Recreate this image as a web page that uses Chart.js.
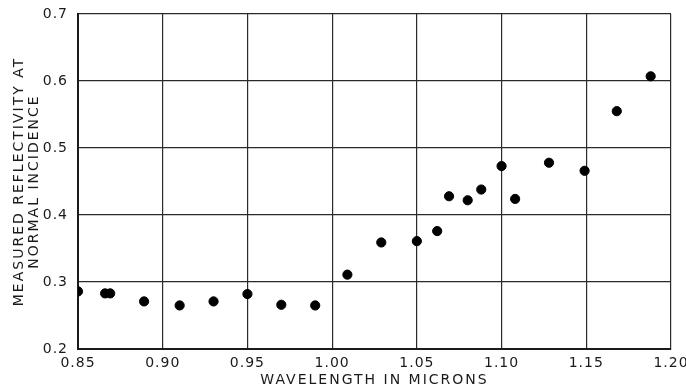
<!DOCTYPE html>
<html>
<head>
<meta charset="utf-8">
<script src="https://cdn.jsdelivr.net/npm/chart.js@4"></script>
<style>
  html, body { margin: 0; padding: 0; background: #fff; }
  #wrap { width: 686px; height: 387px; }
</style>
</head>
<body>
<div id="wrap"><canvas id="reflChart" width="686" height="387"></canvas></div>
<script>
// Datos
const wavelengths = [0.85, 0.866, 0.869, 0.889, 0.910, 0.930, 0.950, 0.970, 0.990, 1.009, 1.029, 1.050, 1.062, 1.069, 1.080, 1.088, 1.100, 1.108, 1.128, 1.149, 1.168, 1.188];
const reflectivity = [0.286, 0.283, 0.283, 0.271, 0.265, 0.271, 0.282, 0.266, 0.265, 0.311, 0.359, 0.361, 0.376, 0.428, 0.422, 0.438, 0.473, 0.424, 0.478, 0.466, 0.555, 0.607];
const xTicks = [0.85, 0.90, 0.95, 1.00, 1.05, 1.10, 1.15, 1.20];
const yTicks = [0.2, 0.3, 0.4, 0.5, 0.6, 0.7];

const FONT = "'DejaVu Sans', sans-serif";
const ink = '#1a1a1a';

// Espaciado de letras: 1px para las marcas, 2px para los títulos
const spacingPlugin = {
    id: 'spacing',
    beforeDraw(chart) {
        chart.ctx.letterSpacing = '1px';
        Object.values(chart.scales).forEach(scale => {
            if (scale._titleWrapped) return;
            const orig = scale.drawTitle;
            scale.drawTitle = function () {
                this.ctx.save();
                this.ctx.letterSpacing = '2px';
                orig.apply(this, arguments);
                this.ctx.restore();
            };
            scale._titleWrapped = true;
        });
    }
};

const ctx = document.getElementById('reflChart');

new Chart(ctx, {
    type: 'scatter',
    data: {
        datasets: [{
            data: wavelengths.map((w, i) => ({ x: w, y: reflectivity[i] })),
            backgroundColor: '#000',
            borderColor: '#000',
            pointRadius: 4.6,
            pointHoverRadius: 4.6
        }]
    },
    plugins: [spacingPlugin],
    options: {
        responsive: false,
        animation: false,
        layout: {
            padding: { left: 12, right: 15, top: 14, bottom: 0 }
        },
        plugins: {
            legend: { display: false },
            tooltip: { enabled: false }
        },
        scales: {
            x: {
                type: 'linear',
                min: 0.85,
                max: 1.20,
                afterBuildTicks: (axis) => { axis.ticks = xTicks.map(v => ({ value: v })); },
                afterFit: (axis) => { axis.height = 38; axis.paddingLeft = 0; axis.paddingRight = 0; },
                border: { color: ink, width: 2 },
                grid: { color: '#2a2a2a', lineWidth: 1.2, drawTicks: false },
                ticks: {
                    color: ink,
                    padding: 6,
                    maxRotation: 0,
                    font: { family: FONT, size: 14 },
                    callback: (v) => v.toFixed(2)
                },
                title: {
                    display: true,
                    text: 'WAVELENGTH IN MICRONS',
                    color: ink,
                    padding: { top: 0, bottom: 0 },
                    font: { family: FONT, size: 14, lineHeight: 1.0 }
                }
            },
            y: {
                type: 'linear',
                min: 0.2,
                max: 0.7,
                afterBuildTicks: (axis) => { axis.ticks = yTicks.map(v => ({ value: v })); },
                afterFit: (axis) => { axis.width = 66; axis.paddingTop = 0; axis.paddingBottom = 0; },
                border: { color: ink, width: 2 },
                grid: { color: '#2a2a2a', lineWidth: 1.2, drawTicks: false },
                ticks: {
                    color: ink,
                    padding: 10,
                    font: { family: FONT, size: 14 },
                    callback: (v) => v.toFixed(1)
                },
                title: {
                    display: true,
                    text: ['MEASURED REFLECTIVITY AT', 'NORMAL INCIDENCE'],
                    color: ink,
                    padding: { top: 0, bottom: 0 },
                    font: { family: FONT, size: 14, lineHeight: 1.05 }
                }
            }
        }
    }
});
</script>
</body>
</html>
